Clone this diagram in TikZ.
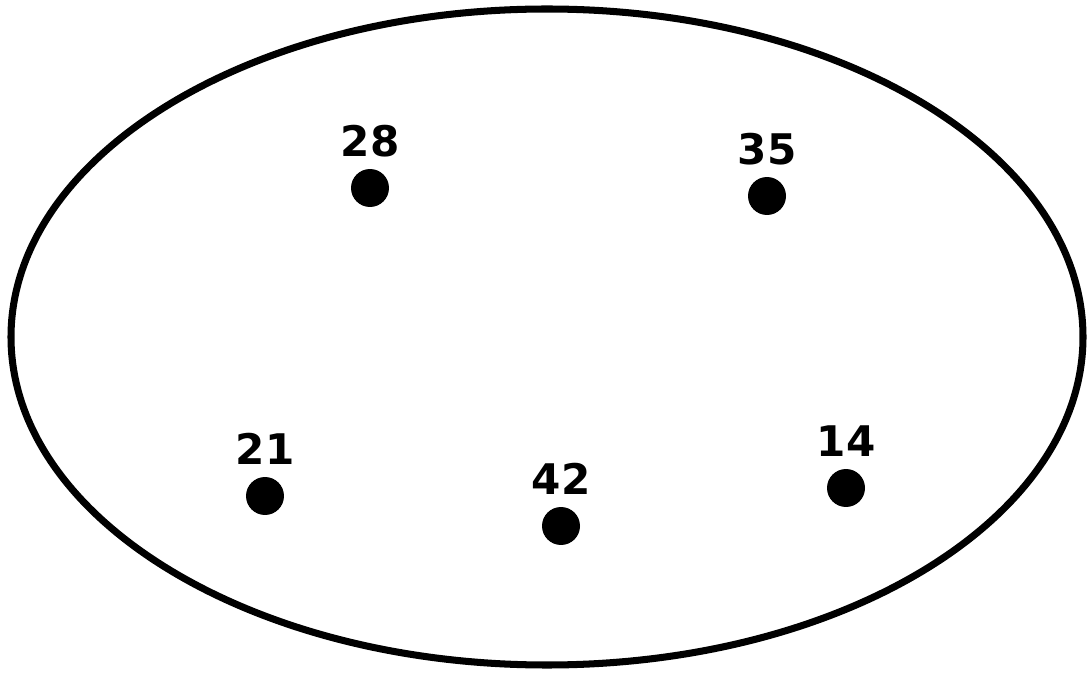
\documentclass[tikz,border=0pt]{standalone}
\usepackage{fontspec}
\setmainfont{DejaVu Sans}
\begin{document}
\begin{tikzpicture}[x=0.02cm,y=-0.02cm,
  dot/.style={circle,fill=black,inner sep=0pt,minimum size=0.76cm},
  num/.style={font=\fontsize{24}{28}\selectfont\bfseries,inner sep=0pt,anchor=base}]
  \useasboundingbox (0,0) rectangle (1089,675);
  \draw[line width=4pt] (547,337) ellipse [x radius=536,y radius=328];
  \foreach \x/\y/\lab in {370/188/28,767/196/35,265/496/21,561/526/42,846/488/14}{
    \node[dot] (d\lab) at (\x,\y) {};
    \node[num] (t\lab) at (\x,\y-31) {\lab};
  }
\end{tikzpicture}
\end{document}
